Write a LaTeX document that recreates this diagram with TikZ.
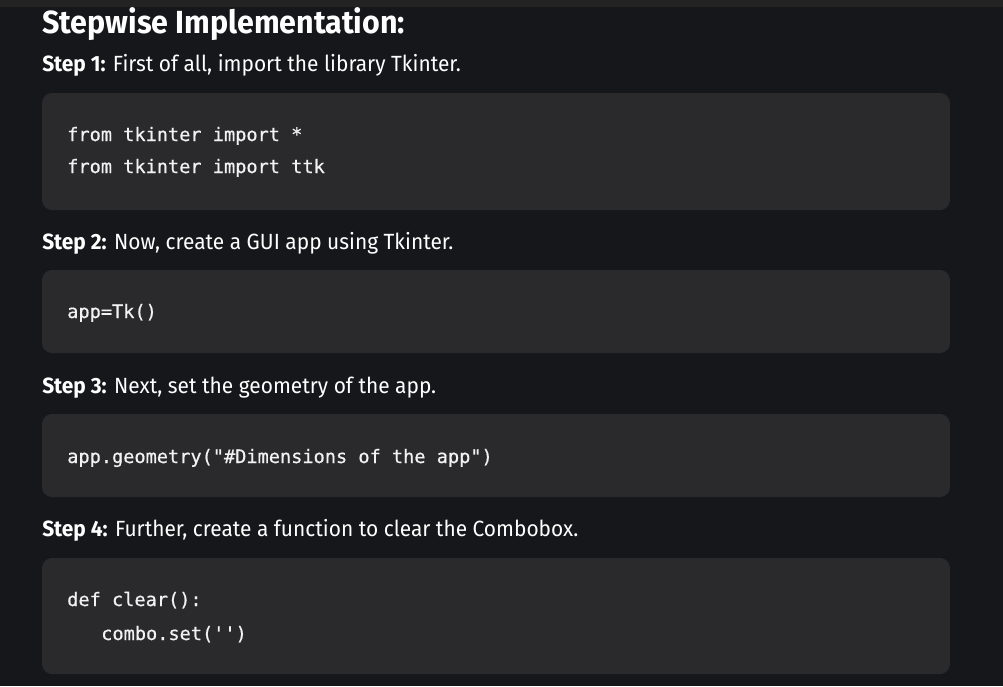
\documentclass[tikz,border=0pt]{standalone}
\usepackage{fontspec}
\setmainfont{Fira Sans}[FakeStretch=0.95]
\newfontfamily\codefont{DejaVu Sans Mono}[FakeBold=0.6]
\definecolor{pagebg}{HTML}{16171A}
\definecolor{topbar}{HTML}{232323}
\definecolor{boxbg}{HTML}{2A2A2D}
\definecolor{codefg}{HTML}{F2F2F2}

\begin{document}
\begin{tikzpicture}[
            x=0.75pt,y=-0.75pt,
            heading/.style={anchor=base west,inner sep=0pt,text=white,font=\bfseries\fontsize{24}{28}\selectfont},
            steptext/.style={anchor=base west,inner sep=0pt,text=white,font=\fontsize{16.5}{20}\selectfont},
            codetext/.style={anchor=base west,inner sep=0pt,text=codefg,font=\codefont\fontsize{13.95}{16}\selectfont},
            codebox/.style={fill=boxbg,rounded corners=7.5pt}
        ]
        % page
        \fill[pagebg] (0,0) rectangle (1003,686);
        \fill[topbar] (0,0) rectangle (1003,7);
        \useasboundingbox (0,0) rectangle (1003,686);
        \node[heading] (title) at (42,33) {Stepwise Implementation:};
        % step 1
        \node[steptext] (step1) at (42,71) {\textbf{Step 1:} First of all, import the library Tkinter.};
        \fill[codebox] (42,93) rectangle (950,210);
        \node[codetext] (code1a) at (67,141) {from tkinter import *};
        \node[codetext] (code1b) at (67,173) {from tkinter import ttk};
        % step 2
        \node[steptext] (step2) at (42,249) {\textbf{Step 2:} Now, create a GUI app using Tkinter.};
        \fill[codebox] (42,270) rectangle (950,353);
        \node[codetext] (code2) at (67,318) {app=Tk()};
        % step 3
        \node[steptext] (step3) at (42,393) {\textbf{Step 3:} Next, set the geometry of the app.};
        \fill[codebox] (42,414) rectangle (950,497);
        \node[codetext] (code3) at (67,463) {app.geometry("\#Dimensions of the app")};
        % step 4
        \node[steptext] (step4) at (42,536) {\textbf{Step 4:} Further, create a function to clear the Combobox.};
        \fill[codebox] (42,558) rectangle (950,674);
        \node[codetext] (code4a) at (67,606) {def clear():};
        \node[codetext] (code4b) at (101,640) {combo.set('')};
    \end{tikzpicture}
\end{document}
